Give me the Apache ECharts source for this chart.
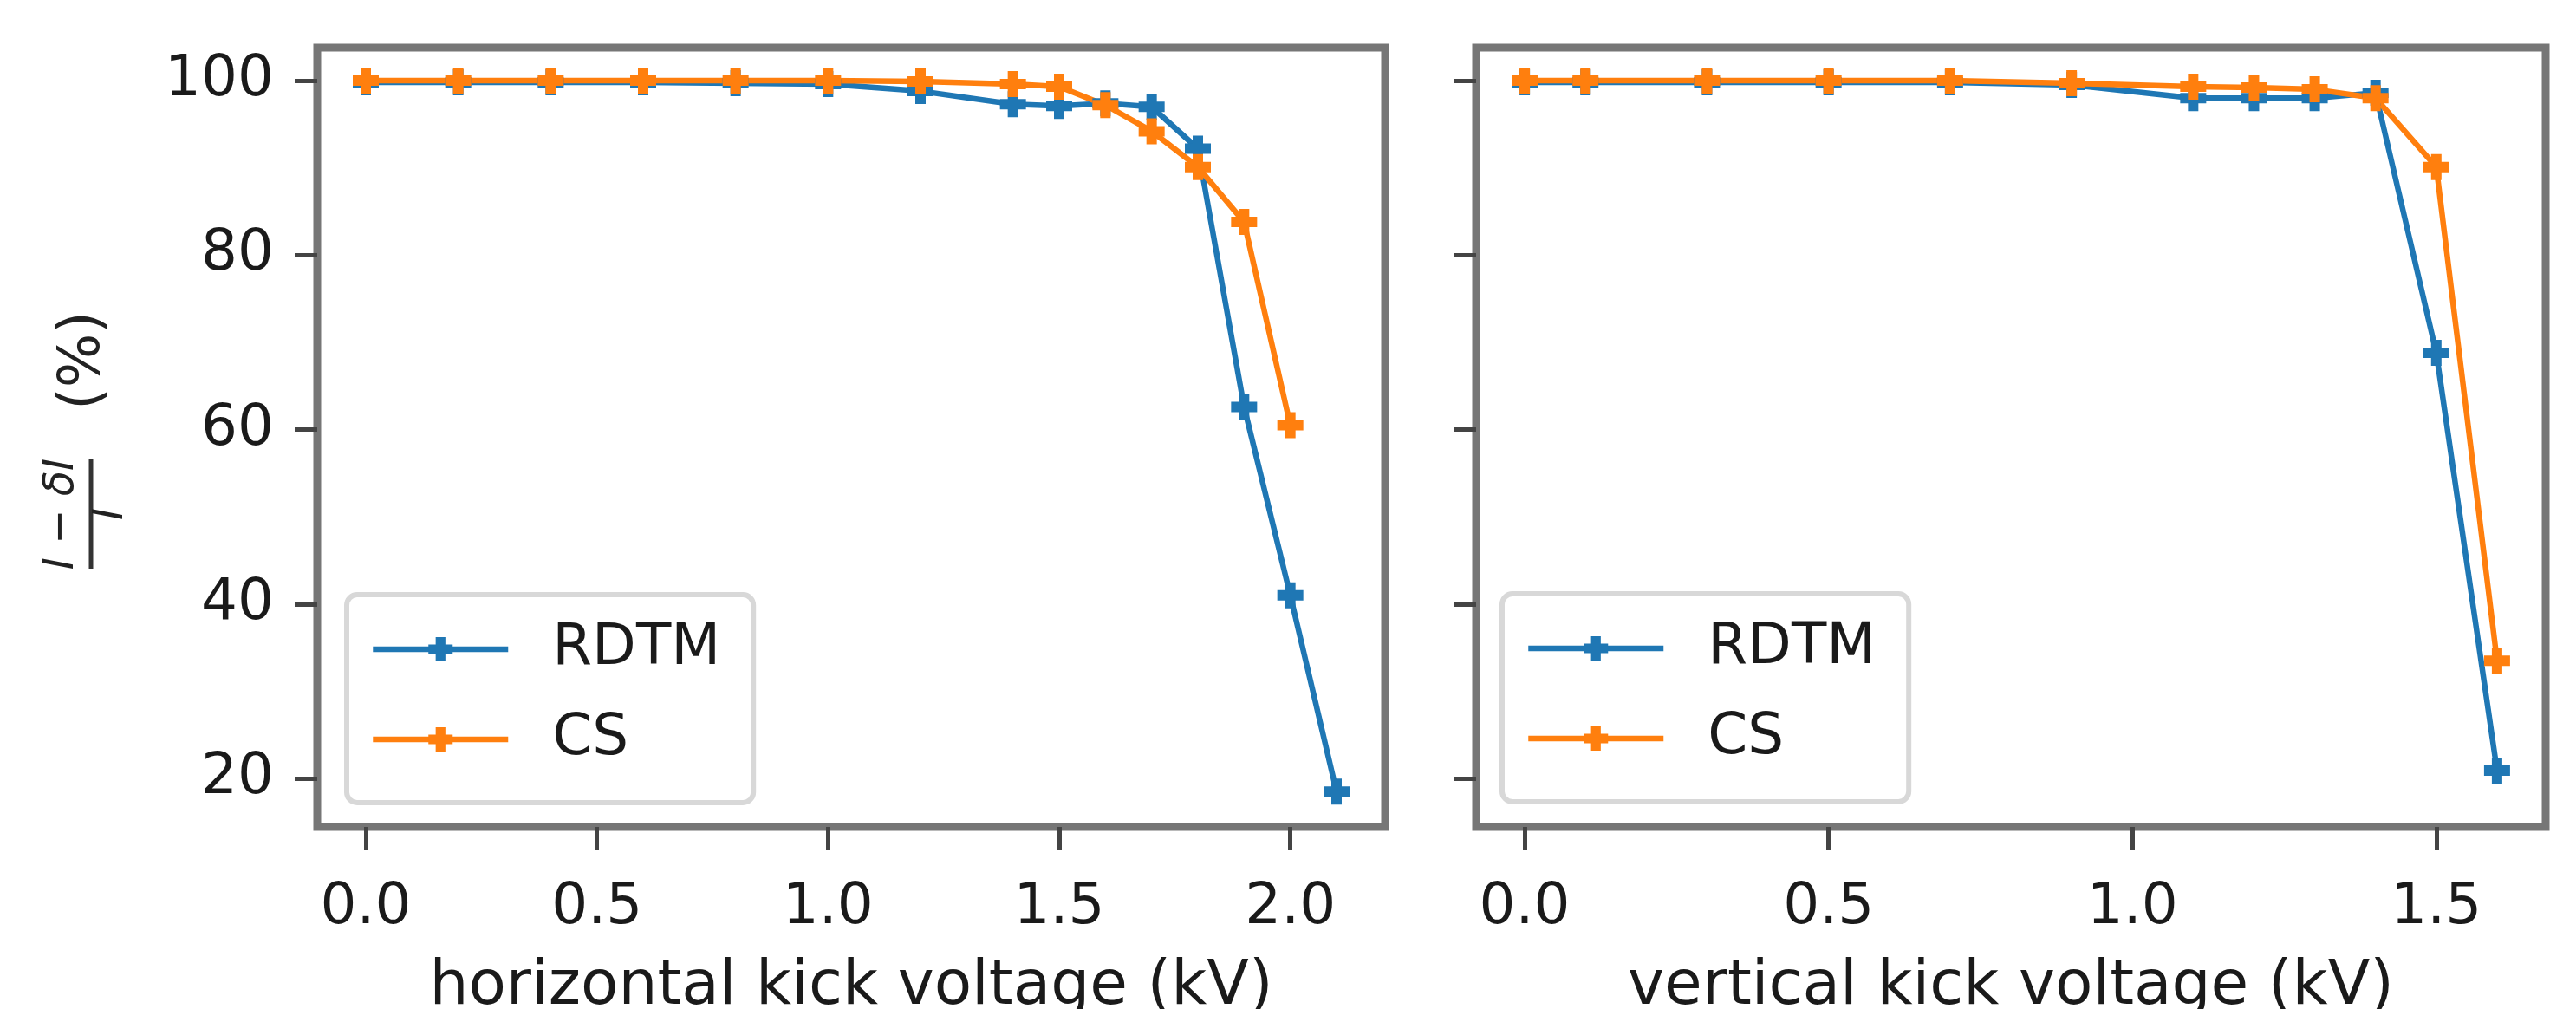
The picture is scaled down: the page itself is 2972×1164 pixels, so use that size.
<!DOCTYPE html>
<html>
<head>
<meta charset="utf-8">
<script src="https://cdn.jsdelivr.net/npm/echarts@6/dist/echarts.min.js"></script>
<style>
html,body{margin:0;padding:0;background:#fff;}
#chart{width:2972px;height:1164px;}
</style>
</head>
<body>
<div id="chart"></div>
<script>
// ---- data ----
const hKickRDTM = [0, 0.2, 0.4, 0.6, 0.8, 1.0, 1.2, 1.4, 1.5, 1.6, 1.7, 1.8, 1.9, 2.0, 2.1];
const hRDTM     = [99.8, 99.8, 99.8, 99.8, 99.7, 99.6, 98.8, 97.3, 97.1, 97.4, 97.0, 92.2, 62.6, 41.0, 18.5];
const hKickCS   = [0, 0.2, 0.4, 0.6, 0.8, 1.0, 1.2, 1.4, 1.5, 1.6, 1.7, 1.8, 1.9, 2.0];
const hCS       = [100, 100, 100, 100, 100, 100, 99.9, 99.6, 99.3, 97.2, 94.2, 90.1, 83.8, 60.5];

const vKick     = [0, 0.1, 0.3, 0.5, 0.7, 0.9, 1.1, 1.2, 1.3, 1.4, 1.5, 1.6];
const vRDTM     = [99.8, 99.8, 99.8, 99.8, 99.8, 99.5, 98.0, 98.0, 98.0, 98.6, 68.8, 20.9];
const vCS       = [100, 100, 100, 100, 100, 99.7, 99.3, 99.2, 99.0, 98.0, 90.1, 33.5];

const seriesNames = ['RDTM', 'CS'];
const xTicksH = [0, 0.5, 1.0, 1.5, 2.0];
const xTicksV = [0, 0.5, 1.0, 1.5];
const yTicks  = [20, 40, 60, 80, 100];
const xNameH = 'horizontal kick voltage (kV)';
const xNameV = 'vertical kick voltage (kV)';

// ---- styling ----
const FONT = 'DejaVu Sans';
const BLUE = '#1f77b4', ORANGE = '#ff7f0e';
const PLUS = 'path://M3,0H7V3H10V7H7V10H3V7H0V3H3Z';

function pairs(xs, ys) { return xs.map((x, i) => [x, ys[i]]); }

function xAxis(gridIndex, min, max, ticks, name) {
  return {
    type: 'value', gridIndex, min, max, name,
    nameLocation: 'middle', nameGap: 150,
    nameTextStyle: { fontFamily: FONT, fontSize: 71, color: '#1a1a1a' },
    splitLine: { show: false },
    axisLine: { show: false, onZero: false },
    axisTick: { show: true, length: 26, customValues: ticks, lineStyle: { color: '#444', width: 5 } },
    axisLabel: { show: true, customValues: ticks, margin: 61, fontFamily: FONT, fontSize: 66, color: '#1a1a1a',
                 formatter: v => v.toFixed(1) }
  };
}
function yAxis(gridIndex, showLabels) {
  return {
    type: 'value', gridIndex, min: 14.44, max: 103.78,
    splitLine: { show: false },
    axisLine: { show: false, onZero: false },
    axisTick: { show: true, length: 26, customValues: yTicks, lineStyle: { color: '#444', width: 5 } },
    axisLabel: { show: showLabels, customValues: yTicks, margin: 50, fontFamily: FONT, fontSize: 66, color: '#1a1a1a' }
  };
}
function line(name, color, xi, data) {
  return {
    type: 'line', name, xAxisIndex: xi, yAxisIndex: xi, data,
    symbol: PLUS, symbolSize: 30, showSymbol: true,
    lineStyle: { color, width: 6.5 }, itemStyle: { color },
    emphasis: { disabled: true }, animation: false
  };
}
function legend(left, top) {
  return {
    data: seriesNames, left, top, orient: 'vertical',
    itemWidth: 156, itemHeight: 35, itemGap: 38,
    padding: [30, 38, 40, 27],
    backgroundColor: 'rgba(255,255,255,0.8)',
    borderColor: '#d8d8d8', borderWidth: 6, borderRadius: 12,
    lineStyle: { width: 6.5 },
    textStyle: { fontFamily: FONT, fontSize: 66, color: '#1a1a1a', padding: [0, 0, 0, 46] },
    selectedMode: false
  };
}
function grid(left, right) {
  return { left, right, top: 55, bottom: 210, containLabel: false, outerBoundsMode: 'none',
           show: true, borderColor: '#767676', borderWidth: 9, backgroundColor: 'transparent' };
}

const chart = echarts.init(document.getElementById('chart'), null, { renderer: 'canvas' });
chart.setOption({
  animation: false,
  backgroundColor: '#fff',
  grid: [ grid(366, 1374), grid(1703, 35) ],
  xAxis: [ xAxis(0, -0.105, 2.205, xTicksH, xNameH), xAxis(1, -0.08, 1.68, xTicksV, xNameV) ],
  yAxis: [ yAxis(0, true), yAxis(1, false) ],
  legend: [ legend(400, 686), legend(1733, 685) ],
  series: [
    line(seriesNames[0], BLUE, 0, pairs(hKickRDTM, hRDTM)),
    line(seriesNames[1], ORANGE, 0, pairs(hKickCS, hCS)),
    line(seriesNames[0], BLUE, 1, pairs(vKick, vRDTM)),
    line(seriesNames[1], ORANGE, 1, pairs(vKick, vCS))
  ],
  graphic: [{
    type: 'group', x: 105, y: 593, rotation: Math.PI / 2,
    children: [
      { type: 'line', shape: { x1: -63, y1: 0, x2: 63, y2: 0 }, style: { stroke: '#333', lineWidth: 5 } },
      { type: 'text', x: 0, y: -33, style: { text: 'I − δI', fontFamily: FONT, fontStyle: 'italic', fontSize: 48, fill: '#222', align: 'center', verticalAlign: 'middle' } },
      { type: 'text', x: 0, y: 24, style: { text: 'I', fontFamily: FONT, fontStyle: 'italic', fontSize: 48, fill: '#222', align: 'center', verticalAlign: 'middle' } },
      { type: 'text', x: 177, y: -8, style: { text: '(%)', fontFamily: FONT, fontSize: 66, fill: '#222', align: 'center', verticalAlign: 'middle' } }
    ]
  }]
});
</script>
</body>
</html>
